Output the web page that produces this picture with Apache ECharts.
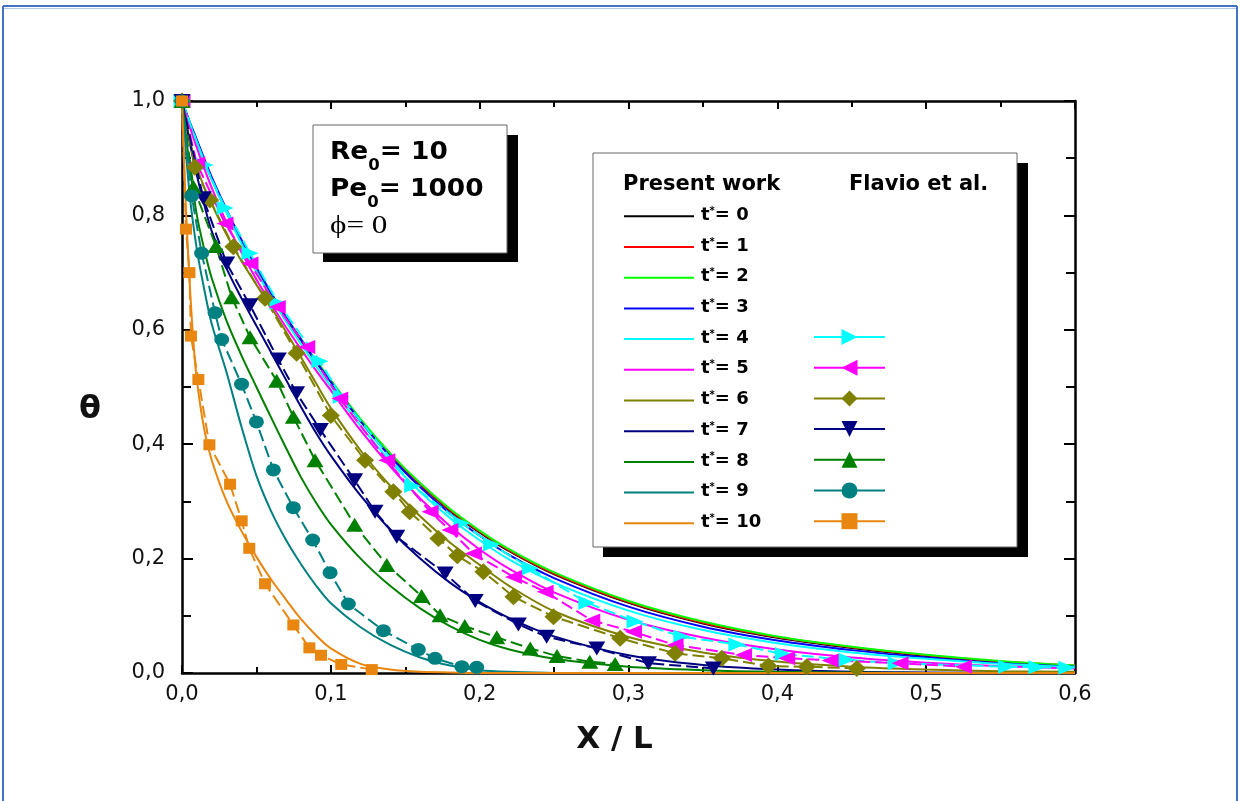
<!DOCTYPE html>
<html><head><meta charset="utf-8">
<script src="https://cdn.jsdelivr.net/npm/echarts@6/dist/echarts.min.js"></script>
<style>html,body{margin:0;padding:0;background:#fff}#c{width:1240px;height:801px}</style>
</head><body><div id="c"></div>
<script>
// ---------- tick labels ----------
const xTickLabels = ['0,0', '0,1', '0,2', '0,3', '0,4', '0,5', '0,6'];
const yTickLabels = ['0,0', '0,2', '0,4', '0,6', '0,8', '1,0'];

// ---------- Present work (solid lines) ----------
const presentX = [0, 0.005, 0.01, 0.015, 0.02, 0.03, 0.04, 0.05, 0.06, 0.07, 0.08, 0.09, 0.10, 0.12, 0.14, 0.16, 0.18, 0.20, 0.22, 0.25, 0.30, 0.35, 0.40, 0.45, 0.50, 0.55, 0.60];
const present0 = [1.000, 0.962, 0.928, 0.895, 0.862, 0.805, 0.752, 0.705, 0.660, 0.618, 0.580, 0.543, 0.508, 0.440, 0.380, 0.328, 0.283, 0.245, 0.212, 0.172, 0.122, 0.086, 0.061, 0.043, 0.029, 0.018, 0.011];
const present1 = [1.000, 0.962, 0.928, 0.895, 0.863, 0.806, 0.753, 0.706, 0.661, 0.620, 0.582, 0.545, 0.510, 0.442, 0.382, 0.330, 0.285, 0.247, 0.214, 0.174, 0.124, 0.088, 0.063, 0.045, 0.031, 0.020, 0.013];
const present2 = [1.000, 0.963, 0.929, 0.896, 0.864, 0.807, 0.755, 0.708, 0.663, 0.622, 0.584, 0.547, 0.512, 0.444, 0.384, 0.332, 0.287, 0.249, 0.216, 0.176, 0.126, 0.090, 0.064, 0.046, 0.032, 0.021, 0.013];
const present3 = [1.000, 0.965, 0.932, 0.899, 0.867, 0.810, 0.757, 0.709, 0.664, 0.622, 0.583, 0.545, 0.509, 0.440, 0.378, 0.325, 0.279, 0.240, 0.206, 0.166, 0.116, 0.081, 0.057, 0.040, 0.027, 0.017, 0.011];
const present4 = [1.000, 0.962, 0.928, 0.895, 0.862, 0.804, 0.750, 0.702, 0.656, 0.614, 0.575, 0.537, 0.501, 0.432, 0.370, 0.317, 0.271, 0.232, 0.198, 0.158, 0.109, 0.075, 0.052, 0.036, 0.025, 0.016, 0.010];
const present5 = [1.000, 0.957, 0.918, 0.882, 0.848, 0.787, 0.735, 0.688, 0.645, 0.604, 0.566, 0.529, 0.494, 0.424, 0.361, 0.305, 0.257, 0.216, 0.182, 0.141, 0.093, 0.062, 0.041, 0.027, 0.018, 0.012, 0.008];
const present6 = [1.000, 0.935, 0.885, 0.848, 0.820, 0.766, 0.720, 0.679, 0.639, 0.596, 0.552, 0.507, 0.463, 0.389, 0.327, 0.274, 0.228, 0.189, 0.152, 0.108, 0.063, 0.036, 0.020, 0.011, 0.006, 0.003, 0.002];
const present7 = [1.000, 0.930, 0.870, 0.818, 0.772, 0.707, 0.655, 0.607, 0.560, 0.512, 0.465, 0.420, 0.380, 0.310, 0.250, 0.200, 0.158, 0.124, 0.096, 0.064, 0.031, 0.014, 0.006, 0.002, 0.001, 0.000, 0.000];
const present8 = [1.000, 0.890, 0.800, 0.740, 0.690, 0.615, 0.555, 0.500, 0.446, 0.393, 0.342, 0.298, 0.260, 0.200, 0.152, 0.113, 0.082, 0.058, 0.041, 0.025, 0.011, 0.005, 0.002, 0.001, 0.000, 0.000, 0.000];
const present9 = [1.000, 0.840, 0.740, 0.670, 0.610, 0.525, 0.430, 0.345, 0.282, 0.232, 0.190, 0.153, 0.122, 0.080, 0.049, 0.027, 0.013, 0.005, 0.002, 0.000, 0.000, 0.000, 0.000, 0.000, 0.000, 0.000, 0.000];
const present10X = [0, 0.0025, 0.005, 0.0075, 0.01, 0.015, 0.02, 0.03, 0.04, 0.05, 0.06, 0.07, 0.08, 0.09, 0.10, 0.12, 0.14, 0.16, 0.18, 0.20, 0.25, 0.30, 0.40, 0.50, 0.60];
const present10 = [1.000, 0.820, 0.690, 0.585, 0.512, 0.425, 0.372, 0.300, 0.248, 0.203, 0.163, 0.128, 0.094, 0.066, 0.043, 0.016, 0.006, 0.002, 0.001, 0.000, 0.000, 0.000, 0.000, 0.000, 0.000];

// ---------- Flavio et al. (markers) ----------
const flavio4X = [0, 0.0155, 0.029, 0.0457, 0.0645, 0.0927, 0.107, 0.155, 0.188, 0.208, 0.234, 0.272, 0.3044, 0.3358, 0.3728, 0.404, 0.4467, 0.4798, 0.554, 0.5744, 0.5945];
const flavio4Y = [1, 0.888, 0.813, 0.734, 0.647, 0.545, 0.483, 0.327, 0.262, 0.225, 0.183, 0.123, 0.090, 0.0635, 0.050, 0.033, 0.023, 0.017, 0.011, 0.010, 0.009];
const flavio5X = [0, 0.0099, 0.0289, 0.0457, 0.064, 0.0838, 0.106, 0.1376, 0.1667, 0.18, 0.1958, 0.2227, 0.244, 0.2753, 0.3033, 0.3313, 0.3773, 0.4063, 0.4355, 0.4825, 0.525];
const flavio5Y = [1, 0.891, 0.786, 0.716, 0.640, 0.570, 0.480, 0.372, 0.282, 0.250, 0.209, 0.168, 0.142, 0.092, 0.072, 0.049, 0.0315, 0.026, 0.022, 0.017, 0.011];
const flavio6X = [0, 0.0087, 0.0188, 0.0345, 0.0558, 0.077, 0.100, 0.123, 0.142, 0.153, 0.1723, 0.185, 0.2025, 0.2227, 0.2496, 0.2944, 0.3313, 0.3627, 0.394, 0.4198, 0.4534];
const flavio6Y = [1, 0.884, 0.827, 0.745, 0.655, 0.559, 0.450, 0.372, 0.317, 0.282, 0.235, 0.205, 0.177, 0.1334, 0.0985, 0.0606, 0.0344, 0.0257, 0.0122, 0.011, 0.008];
const flavio7X = [0, 0.0143, 0.030, 0.0457, 0.0647, 0.077, 0.093, 0.116, 0.1297, 0.1443, 0.1768, 0.197, 0.226, 0.245, 0.2787, 0.3134, 0.357];
const flavio7Y = [1, 0.830, 0.716, 0.643, 0.548, 0.489, 0.425, 0.337, 0.282, 0.238, 0.174, 0.126, 0.085, 0.0635, 0.043, 0.017, 0.008];
const flavio8X = [0, 0.0076, 0.0228, 0.0334, 0.0457, 0.0636, 0.0748, 0.0894, 0.116, 0.1376, 0.161, 0.1734, 0.190, 0.2115, 0.234, 0.252, 0.274, 0.291];
const flavio8Y = [1, 0.850, 0.7465, 0.657, 0.587, 0.511, 0.448, 0.372, 0.259, 0.189, 0.1346, 0.101, 0.082, 0.0624, 0.043, 0.0297, 0.0198, 0.0157];
const flavio9X = [0, 0.0065, 0.0132, 0.0222, 0.0267, 0.040, 0.050, 0.0614, 0.0748, 0.0878, 0.0995, 0.1118, 0.1353, 0.1588, 0.170, 0.188, 0.198];
const flavio9Y = [1, 0.834, 0.734, 0.630, 0.583, 0.505, 0.439, 0.355, 0.289, 0.2325, 0.1754, 0.1206, 0.074, 0.041, 0.0257, 0.011, 0.010];
const flavio10X = [0, 0.0027, 0.0050, 0.0060, 0.011, 0.0184, 0.0323, 0.0401, 0.0452, 0.0558, 0.0748, 0.0856, 0.0934, 0.107, 0.1275];
const flavio10Y = [1, 0.776, 0.700, 0.589, 0.513, 0.399, 0.330, 0.266, 0.218, 0.156, 0.084, 0.044, 0.031, 0.015, 0.006];

// ---------- series meta ----------
const tValues = [0, 1, 2, 3, 4, 5, 6, 7, 8, 9, 10];
const flavioT = [4, 5, 6, 7, 8, 9, 10];
const colors = ['#000000', '#FF0000', '#00FF00', '#0000FF', '#00FFFF', '#FF00FF', '#808000', '#000080', '#008000', '#008080', '#E8860F'];

const pair = (xs, ys) => xs.map((x, i) => [x, ys[i]]);
const presentData = [present0, present1, present2, present3, present4, present5, present6, present7, present8, present9, present10]
  .map((ys, i) => pair(i === 10 ? present10X : presentX, ys));
const flavioData = {
  4: pair(flavio4X, flavio4Y), 5: pair(flavio5X, flavio5Y), 6: pair(flavio6X, flavio6Y),
  7: pair(flavio7X, flavio7Y), 8: pair(flavio8X, flavio8Y), 9: pair(flavio9X, flavio9Y),
  10: pair(flavio10X, flavio10Y)
};
const flavioSymbols = {
  4: { symbol: 'triangle', rotate: -90, size: [14, 17] },
  5: { symbol: 'triangle', rotate: 90, size: [14, 17] },
  6: { symbol: 'diamond', rotate: 0, size: [18, 17] },
  7: { symbol: 'triangle', rotate: 180, size: [17, 14] },
  8: { symbol: 'triangle', rotate: 0, size: [17, 14] },
  9: { symbol: 'circle', rotate: 0, size: [15, 13] },
  10: { symbol: 'rect', rotate: 0, size: [12, 11] }
};

const FONT = 'DejaVu Sans';
const series = [];
tValues.forEach((t, i) => {
  series.push({
    name: 'P' + t, type: 'line', data: presentData[i], symbol: 'none', smooth: 0.3,
    lineStyle: { color: colors[i], width: t === 0 ? 1.3 : 2 }, itemStyle: { color: colors[i] },
    z: 2, animation: false
  });
});
flavioT.forEach(t => {
  const s = flavioSymbols[t];
  series.push({
    name: 'F' + t, type: 'line', data: flavioData[t], symbol: s.symbol, symbolRotate: s.rotate,
    symbolSize: s.size, showSymbol: true, showAllSymbol: true,
    lineStyle: { color: colors[t], width: 2, type: [12, 5] },
    itemStyle: { color: colors[t] }, z: 3, animation: false
  });
});

const axisCommon = {
  type: 'value',
  axisLine: { show: true, onZero: false, lineStyle: { color: '#000', width: 2.5 } },
  splitLine: { show: false },
  minorTick: { show: true, splitNumber: 2, length: 6, lineStyle: { color: '#000', width: 2 } },
  axisTick: { inside: true, length: 8, lineStyle: { color: '#000', width: 2 } }
};

const subRich = {
  b: { fontFamily: FONT, fontWeight: 'bold', fontSize: 24, fill: '#000', lineHeight: 26, verticalAlign: 'top' },
  u: { fontFamily: FONT, fontWeight: 'bold', fontSize: 15, fill: '#000', lineHeight: 33, verticalAlign: 'bottom' }
};

const option = {
  animation: false,
  backgroundColor: '#fff',
  grid: { left: 182, top: 101, right: 165, bottom: 128 },
  xAxis: [
    Object.assign({}, axisCommon, {
      min: 0, max: 0.6, interval: 0.1, position: 'bottom',
      axisLabel: { margin: 11, fontFamily: FONT, fontSize: 21, color: '#111',
        formatter: v => xTickLabels[Math.round(v * 10)] },
      name: 'X / L', nameLocation: 'middle', nameGap: 51,
      nameTextStyle: { fontFamily: FONT, fontWeight: 'bold', fontSize: 31, color: '#111', padding: [0, 28, 0, 0] }
    }),
    Object.assign({}, axisCommon, {
      min: 0, max: 0.6, interval: 0.1, position: 'top', axisLabel: { show: false }
    })
  ],
  yAxis: [
    Object.assign({}, axisCommon, {
      min: 0, max: 1, interval: 0.2, position: 'left',
      axisTick: { inside: true, length: 11, lineStyle: { color: '#000', width: 2 } },
      minorTick: { show: true, splitNumber: 2, length: 9, lineStyle: { color: '#000', width: 2 } },
      axisLabel: { margin: 17, fontFamily: FONT, fontSize: 21, color: '#111',
        formatter: v => yTickLabels[Math.round(v * 5)] }
    }),
    Object.assign({}, axisCommon, {
      min: 0, max: 1, interval: 0.2, position: 'right',
      axisTick: { inside: true, length: 11, lineStyle: { color: '#000', width: 2 } },
      minorTick: { show: true, splitNumber: 2, length: 9, lineStyle: { color: '#000', width: 2 } },
      axisLabel: { show: false }
    })
  ],
  legend: [
    {
      orient: 'vertical', left: 623, top: 206.3, padding: 0, itemWidth: 70, itemHeight: 20, itemGap: 12.7,
      selectedMode: false, data: tValues.map(t => 'P' + t),
      formatter: n => '{t|t}{s|*}{m|= ' + n.slice(1) + '}',
      itemStyle: { opacity: 0 },
      textStyle: {
        fontFamily: FONT, fontWeight: 'bold', fontSize: 18, color: '#000',
        rich: {
          t: { fontFamily: FONT, fontWeight: 'bold', fontSize: 18, color: '#000', lineHeight: 20, verticalAlign: 'top', padding: [0, 0, 0, 2] },
          s: { fontFamily: FONT, fontWeight: 'bold', fontSize: 10, color: '#000', lineHeight: 10, verticalAlign: 'top' },
          m: { fontFamily: FONT, fontWeight: 'bold', fontSize: 18, color: '#000', lineHeight: 20, verticalAlign: 'top' }
        }
      }
    },
    {
      orient: 'vertical', left: 813, top: 327, padding: 0, itemWidth: 71, itemHeight: 20, itemGap: 12.7,
      selectedMode: false, data: flavioT.map(t => 'F' + t),
      formatter: () => '', lineStyle: { type: 'solid' }
    }
  ],
  graphic: [
    // figure frame
    { type: 'line', shape: { x1: 3, y1: 6, x2: 1237, y2: 6 }, style: { stroke: '#4472C4', lineWidth: 2 }, z: 10 },
    { type: 'line', shape: { x1: 4, y1: 8.5, x2: 1236, y2: 8.5 }, style: { stroke: '#B4C7E7', lineWidth: 1 }, z: 10 },
    { type: 'line', shape: { x1: 3, y1: 6, x2: 3, y2: 801 }, style: { stroke: '#4472C4', lineWidth: 2 }, z: 10 },
    { type: 'line', shape: { x1: 1237, y1: 6, x2: 1237, y2: 801 }, style: { stroke: '#4472C4', lineWidth: 2 }, z: 10 },
    // parameter box
    { type: 'rect', shape: { x: 323, y: 135, width: 195, height: 127 }, style: { fill: '#000' }, z: 5 },
    { type: 'rect', shape: { x: 313, y: 125, width: 194, height: 128 }, style: { fill: '#fff', stroke: '#666', lineWidth: 1 }, z: 5 },
    { type: 'text', x: 330, y: 141, scaleX: 1.1, z: 6, style: { text: '{b|Re}{u|0}{b|= 10}', rich: subRich } },
    { type: 'text', x: 330, y: 178, scaleX: 1.1, z: 6, style: { text: '{b|Pe}{u|0}{b|= 1000}', rich: subRich } },
    { type: 'text', x: 330, y: 213, scaleX: 1.2, z: 6, style: {
        text: 'ϕ= 0', fontFamily: 'Liberation Serif', fontSize: 26, fill: '#000' } },
    // legend box
    { type: 'rect', shape: { x: 603, y: 163, width: 425, height: 394 }, style: { fill: '#000' }, z: 3 },
    { type: 'rect', shape: { x: 593, y: 153, width: 424, height: 394 }, style: { fill: '#fff', stroke: '#666', lineWidth: 1 }, z: 3 },
    { type: 'text', x: 623, y: 185, z: 6, style: { text: 'Present work', fontFamily: FONT, fontWeight: 'bold', fontSize: 21, fill: '#000', verticalAlign: 'middle' } },
    { type: 'text', x: 849, y: 185, z: 6, style: { text: 'Flavio et al.', fontFamily: FONT, fontWeight: 'bold', fontSize: 21, fill: '#000', verticalAlign: 'middle' } },
    // y axis title
    { type: 'text', x: 90, y: 410, z: 6, style: { text: 'θ', fontFamily: FONT, fontWeight: 'bold', fontSize: 32, fill: '#111', align: 'center', verticalAlign: 'middle' } }
  ],
  series: series
};

const chart = echarts.init(document.getElementById('c'), null, { renderer: 'canvas' });
chart.setOption(option);
</script>
</body></html>
